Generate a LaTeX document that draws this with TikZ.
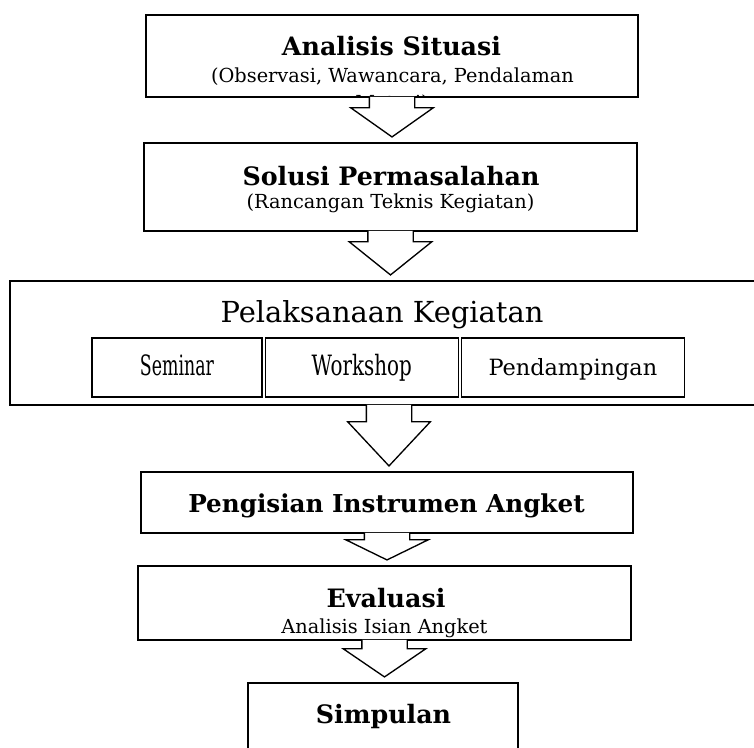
\documentclass[tikz,border=0pt]{standalone}
\usepackage{fontspec}
\setmainfont{DejaVu Serif}
\newfontfamily\semfont[FakeStretch=0.62]{DejaVu Serif}
\newfontfamily\workfont[FakeStretch=0.71]{DejaVu Serif}
\usetikzlibrary{positioning,calc}
\newcommand{\headfont}{\fontsize{19pt}{22pt}\selectfont\bfseries}
\newcommand{\subfont}{\fontsize{14.5pt}{18pt}\selectfont}
\newcommand{\midfont}{\fontsize{21.7pt}{24pt}\selectfont}
% hollow block arrow hanging from the bottom of one box
\newcommand{\blockarrow}[3]{%
  \draw[harrow] let \p1=(#1.south), \p2=(#2.north) in
    (\x1-17pt,\y1+0.7pt) -- (\x1-17pt,\y1-#3) -- (\x1-31pt,\y1-#3)
    -- (\x1,\y2+4pt) -- (\x1+31pt,\y1-#3)
    -- (\x1+17pt,\y1-#3) -- (\x1+17pt,\y1+0.7pt);}

\begin{document}
\begin{tikzpicture}[
  x=0.75pt,y=-0.75pt,
  box/.style={draw,line width=1.1pt,inner sep=0pt},
  sub/.style={draw,line width=0.9pt,inner sep=0pt,minimum height=44.25pt,
    text height=16pt,text depth=4pt},
  head/.style={inner sep=0pt,anchor=base,font=\headfont},
  note/.style={inner sep=0pt,anchor=base,font=\subfont},
  harrow/.style={draw,fill=white,line width=1pt,line join=miter}
]
  \useasboundingbox (0,0) rectangle (754,747);
  \clip (0,0) rectangle (754,747);
  % boxes
  \node[box,minimum width=369pt,minimum height=61.5pt] (sit) at (392,56) {};
  \node[box,minimum width=369.75pt,minimum height=66pt] (sol) at (390.5,187) {};
  \node[box,minimum width=568.5pt,minimum height=93pt] (pel) at (389,343) {};
  \node[box,minimum width=369pt,minimum height=45.75pt] (ang) at (387,502.5) {};
  \node[box,minimum width=369.75pt,minimum height=55.5pt] (eva) at (384.5,603) {};
  \node[box,minimum width=202.5pt,minimum height=60pt] (sim) at (383,723) {};
  % texts
  \node[head] (sitt) at (391.5,55) {Analisis Situasi};
  \node[note] (sitn) at (392.5,82) {(Observasi, Wawancara, Pendalaman};
  \begin{scope}
    \clip (sit.south west) rectangle (sit.north east);
    \node[note] (sitm) at (392,109) {Materi)};
  \end{scope}
  \node[head] (solt) at (391,185) {Solusi Permasalahan};
  \node[note] (soln) at (390.5,208) {(Rancangan Teknis Kegiatan)};
  \node[inner sep=0pt,anchor=base,font=\midfont] (pelt) at (382,322)
    {Pelaksanaan Kegiatan};
  \node[head,font=\headfont\fontsize{18.5pt}{22pt}\selectfont] (angt)
    at (386.5,512) {Pengisian Instrumen Angket};
  \node[head] (evat) at (386,607) {Evaluasi};
  \node[note] (evan) at (384.5,633) {Analisis Isian Angket};
  \node[head] (simt) at (383.5,723) {Simpulan};
  % activities inside the big box
  \node[sub,minimum width=127.5pt,font=\semfont\fontsize{21pt}{24pt}\selectfont]
    (sem) at (177,367.5) {Seminar};
  \node[sub,minimum width=144.75pt,right=1.5pt of sem,
    font=\workfont\fontsize{21pt}{24pt}\selectfont] (work) {Workshop};
  \node[sub,minimum width=167.25pt,right=1.5pt of work,
    font=\fontsize{16.8pt}{20pt}\selectfont] (pend) {Pendampingan};
  % arrows
  \foreach \a/\b/\s in {sit/sol/7.5pt,sol/pel/7.5pt,pel/ang/12pt,
    ang/eva/4.5pt,eva/sim/6pt}
    {\blockarrow{\a}{\b}{\s}}
\end{tikzpicture}
\end{document}
